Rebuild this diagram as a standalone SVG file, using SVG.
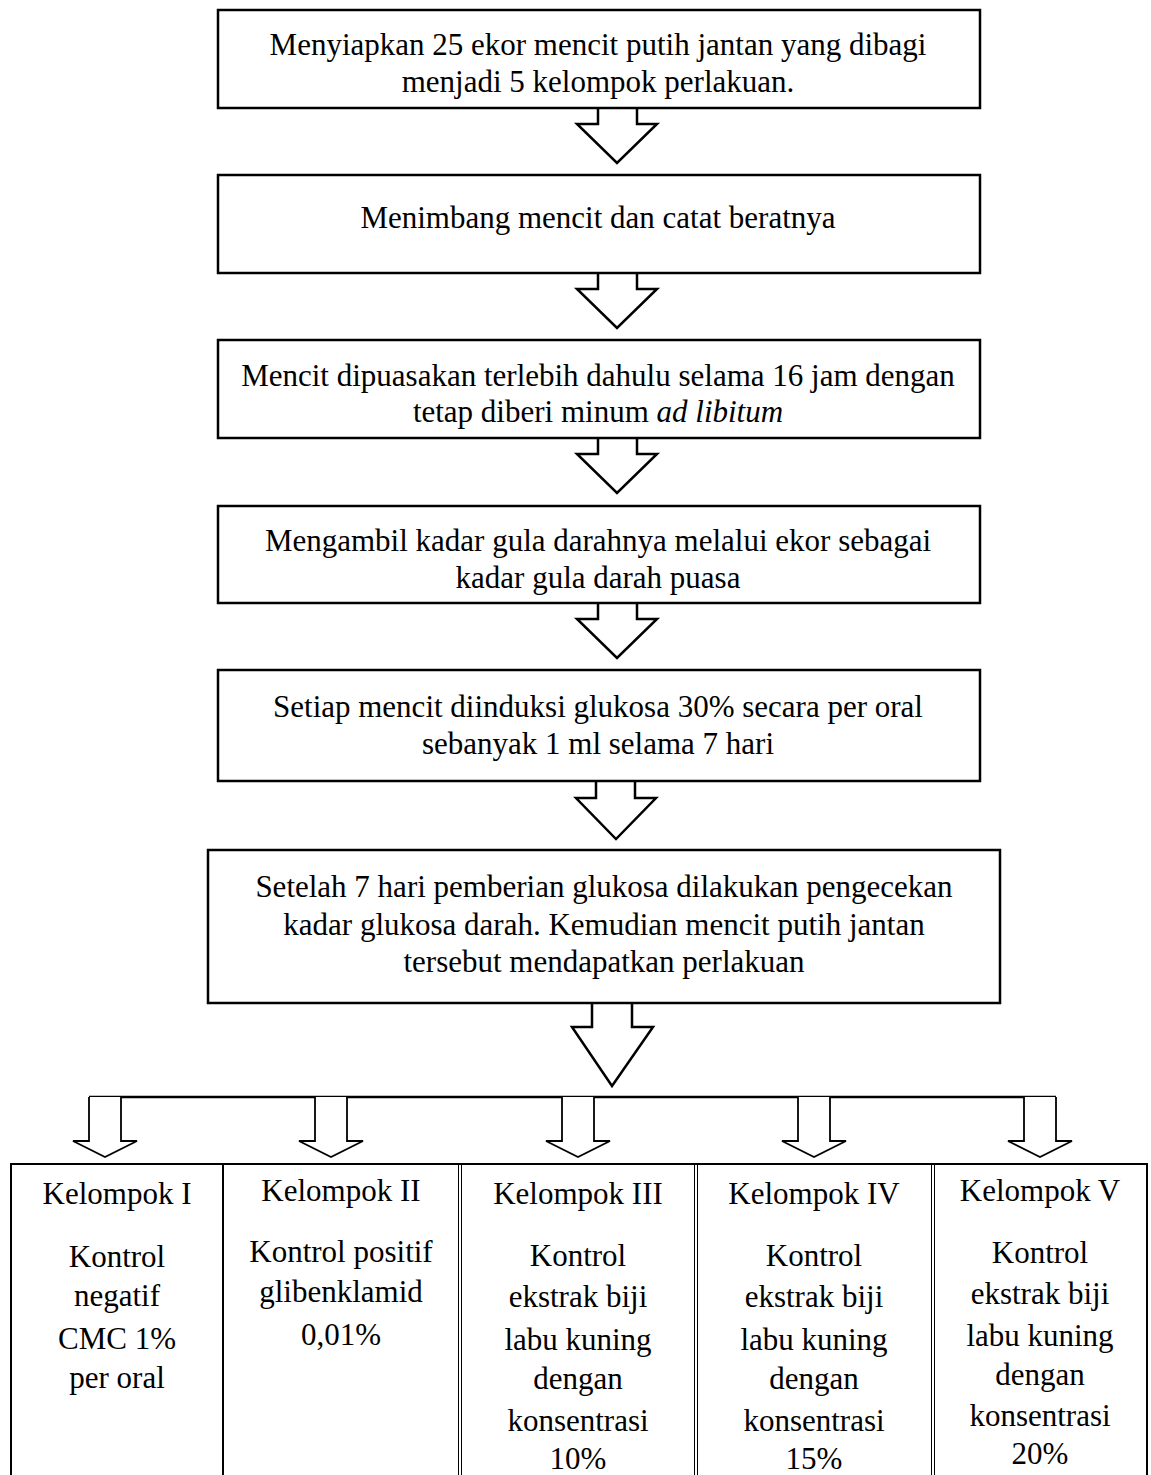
<svg xmlns="http://www.w3.org/2000/svg" width="1151" height="1475" viewBox="0 0 1151 1475">
<style>
  .box { fill: #fff; stroke: #000; stroke-width: 2.5; }
  .arr { fill: #fff; stroke: #000; stroke-width: 2.5; stroke-linejoin: miter; }
  .sarr { fill: #fff; stroke: #000; stroke-width: 1.8; stroke-linejoin: miter; }
  .ln { stroke: #000; stroke-width: 2.5; fill: none; }
  .tl { stroke: #000; stroke-width: 2; fill: none; }
  .dl { stroke: #000; stroke-width: 1; fill: none; }
  text { font-family: "Liberation Serif", "Times New Roman", serif; font-size: 31px; fill: #000; text-anchor: middle; }
</style>
<rect width="1151" height="1475" fill="#fff"/>

<g id="connectors">
  <polyline class="arr" points="598,108 598,124 577,124 617,163 657,124 637,124 637,108"/>
  <polyline class="arr" points="598,273 598,289 577,289 617,328 657,289 637,289 637,273"/>
  <polyline class="arr" points="598,438 598,454 577,454 617,493 657,454 637,454 637,438"/>
  <polyline class="arr" points="598,603 598,619 577,619 617,658 657,619 637,619 637,603"/>
  <polyline class="arr" points="596,781 596,798 576,798 616,839 656,798 635,798 635,781"/>
  <polyline class="arr" points="592,1003 592,1027 572,1027 612,1086 653,1027 632,1027 632,1003"/>
  <line class="ln" x1="89" y1="1097" x2="1056" y2="1097"/>
  <polyline class="sarr" points="89,1097 89,1141 73,1141 105,1157 137,1141 121,1141 121,1097"/>
  <polyline class="sarr" points="315,1097 315,1141 299,1141 331,1157 363,1141 347,1141 347,1097"/>
  <polyline class="sarr" points="562,1097 562,1141 546,1141 578,1157 610,1141 594,1141 594,1097"/>
  <polyline class="sarr" points="798,1097 798,1141 782,1141 814,1157 846,1141 830,1141 830,1097"/>
  <polyline class="sarr" points="1024,1097 1024,1141 1008,1141 1040,1157 1072,1141 1056,1141 1056,1097"/>
</g>

<g id="step1">
  <rect class="box" x="218" y="10" width="762" height="98"/>
  <text x="598" y="55">Menyiapkan 25 ekor mencit putih jantan yang dibagi</text>
  <text x="598" y="92">menjadi 5 kelompok perlakuan.</text>
</g>
<g id="step2">
  <rect class="box" x="218" y="175" width="762" height="98"/>
  <text x="598" y="228">Menimbang mencit dan catat beratnya</text>
</g>
<g id="step3">
  <rect class="box" x="218" y="340" width="762" height="98"/>
  <text x="598" y="386">Mencit dipuasakan terlebih dahulu selama 16 jam dengan</text>
  <text x="598" y="422">tetap diberi minum <tspan font-style="italic">ad libitum</tspan></text>
</g>
<g id="step4">
  <rect class="box" x="218" y="506" width="762" height="97"/>
  <text x="598" y="551">Mengambil kadar gula darahnya melalui ekor sebagai</text>
  <text x="598" y="588">kadar gula darah puasa</text>
</g>
<g id="step5">
  <rect class="box" x="218" y="670" width="762" height="111"/>
  <text x="598" y="717">Setiap mencit diinduksi glukosa 30% secara per oral</text>
  <text x="598" y="754">sebanyak 1 ml selama 7 hari</text>
</g>
<g id="step6">
  <rect class="box" x="208" y="850" width="792" height="153"/>
  <text x="604" y="897">Setelah 7 hari pemberian glukosa dilakukan pengecekan</text>
  <text x="604" y="935">kadar glukosa darah. Kemudian mencit putih jantan</text>
  <text x="604" y="972">tersebut mendapatkan perlakuan</text>
</g>

<g id="table">
  <polyline class="tl" points="11,1480 11,1164 1147,1164 1147,1480"/>
  <line class="tl" x1="223" y1="1164" x2="223" y2="1480"/>
  <line class="dl" x1="458.5" y1="1164" x2="458.5" y2="1480"/>
  <line class="dl" x1="461.5" y1="1164" x2="461.5" y2="1480"/>
  <line class="dl" x1="694.5" y1="1164" x2="694.5" y2="1480"/>
  <line class="dl" x1="697.5" y1="1164" x2="697.5" y2="1480"/>
  <line class="dl" x1="931.5" y1="1164" x2="931.5" y2="1480"/>
  <line class="dl" x1="934.5" y1="1164" x2="934.5" y2="1480"/>
</g>
<g id="kelompok1">
  <text x="117" y="1204">Kelompok I</text>
  <text x="117" y="1267">Kontrol</text>
  <text x="117" y="1306">negatif</text>
  <text x="117" y="1349">CMC 1%</text>
  <text x="117" y="1388">per oral</text>
</g>
<g id="kelompok2">
  <text x="341" y="1201">Kelompok II</text>
  <text x="341" y="1262">Kontrol positif</text>
  <text x="341" y="1302">glibenklamid</text>
  <text x="341" y="1345">0,01%</text>
</g>
<g id="kelompok3">
  <text x="578" y="1204">Kelompok III</text>
  <text x="578" y="1266">Kontrol</text>
  <text x="578" y="1307">ekstrak biji</text>
  <text x="578" y="1350">labu kuning</text>
  <text x="578" y="1389">dengan</text>
  <text x="578" y="1431">konsentrasi</text>
  <text x="578" y="1469">10%</text>
</g>
<g id="kelompok4">
  <text x="814" y="1204">Kelompok IV</text>
  <text x="814" y="1266">Kontrol</text>
  <text x="814" y="1307">ekstrak biji</text>
  <text x="814" y="1350">labu kuning</text>
  <text x="814" y="1389">dengan</text>
  <text x="814" y="1431">konsentrasi</text>
  <text x="814" y="1469">15%</text>
</g>
<g id="kelompok5">
  <text x="1040" y="1201">Kelompok V</text>
  <text x="1040" y="1263">Kontrol</text>
  <text x="1040" y="1304">ekstrak biji</text>
  <text x="1040" y="1346">labu kuning</text>
  <text x="1040" y="1385">dengan</text>
  <text x="1040" y="1426">konsentrasi</text>
  <text x="1040" y="1464">20%</text>
</g>
</svg>
